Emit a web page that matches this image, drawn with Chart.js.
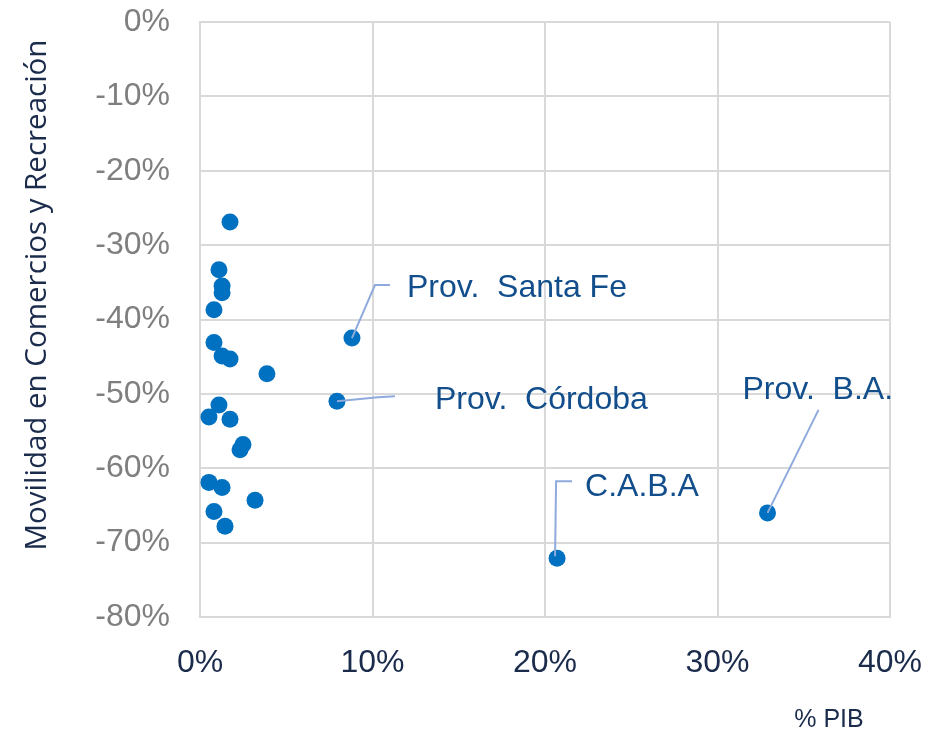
<!DOCTYPE html>
<html>
<head>
<meta charset="utf-8">
<script src="https://cdn.jsdelivr.net/npm/chart.js@4"></script>
<style>
  body { margin: 0; background: #fff; }
  #wrap { width: 935px; height: 731px; }
</style>
</head>
<body>
<div id="wrap"><canvas id="chart" width="935" height="731"></canvas></div>
<script>
// % del PIB de cada provincia vs variación de movilidad (comercios y recreación)
const pib = [1.74, 1.1, 1.28, 1.28, 0.81, 0.81, 1.28, 1.74, 3.88, 8.81, 7.94,
             1.1, 0.52, 1.74, 2.49, 2.32, 0.52, 1.28, 3.19, 0.81, 1.45, 20.7, 32.9];
const movilidad = [-26.9, -33.3, -35.5, -36.4, -38.7, -43.1, -44.9, -45.3, -47.3, -42.5, -51.0,
                   -51.5, -53.1, -53.4, -56.8, -57.5, -61.9, -62.6, -64.3, -65.8, -67.8, -72.1, -66.0];

// puntos con etiqueta (indice dentro de los arrays de arriba)
const etiquetas = ['Prov.  Santa Fe', 'Prov.  Córdoba', 'C.A.B.A', 'Prov.  B.A.'];
const etiquetaIdx = [9, 10, 21, 22];

const xTicks = [0, 10, 20, 30, 40];
const yTicks = [0, -10, -20, -30, -40, -50, -60, -70, -80];

// lineas guia y posicion del texto, en pixeles relativos al punto
const guias = [
  { line: [[0, 0], [23, -53], [38, -53]], text: [55, -50] },
  { line: [[0, 0], [41, -4], [58, -5]], text: [98, -1] },
  { line: [[-2, -2], [-1, -77], [15, -77]], text: [28, -71] },
  { line: [[0, 0], [51, -103]], text: [-25, -123] }
];

const navy = '#1b2b4b';
const azulTexto = '#124e8c';

const extras = {
  id: 'extras',
  afterDatasetsDraw(chart) {
    const ctx = chart.ctx;
    const xs = chart.scales.x, ys = chart.scales.y;
    ctx.save();
    // lineas guia y etiquetas
    etiquetaIdx.forEach((idx, i) => {
      const px = xs.getPixelForValue(pib[idx]);
      const py = ys.getPixelForValue(movilidad[idx]);
      const g = guias[i];
      ctx.strokeStyle = '#8faadc';
      ctx.lineWidth = 2;
      ctx.beginPath();
      g.line.forEach((p, k) => {
        if (k === 0) ctx.moveTo(px + p[0], py + p[1]);
        else ctx.lineTo(px + p[0], py + p[1]);
      });
      ctx.stroke();
      ctx.fillStyle = azulTexto;
      ctx.font = '32px "Liberation Sans", Arial, sans-serif';
      ctx.textAlign = 'left';
      ctx.textBaseline = 'middle';
      ctx.fillText(etiquetas[i], px + g.text[0], py + g.text[1]);
    });
    // titulo eje y
    ctx.fillStyle = navy;
    ctx.font = '29.5px "Open Sans", sans-serif';
    ctx.translate(38, 295);
    ctx.rotate(-Math.PI / 2);
    ctx.textAlign = 'center';
    ctx.textBaseline = 'middle';
    ctx.fillText('Movilidad en Comercios y Recreación', 0, 0);
    ctx.restore();
    // titulo eje x
    ctx.save();
    ctx.fillStyle = navy;
    ctx.font = '25px "Liberation Sans", sans-serif';
    ctx.textAlign = 'center';
    ctx.textBaseline = 'middle';
    ctx.fillText('% PIB', 829, 720);
    ctx.restore();
  }
};

new Chart(document.getElementById('chart'), {
  type: 'scatter',
  data: {
    datasets: [{
      data: pib.map((v, i) => ({ x: v, y: movilidad[i] })),
      backgroundColor: '#0070c0',
      borderWidth: 0,
      pointRadius: 8.5,
      pointHoverRadius: 8.5
    }]
  },
  options: {
    responsive: false,
    animation: false,
    events: [],
    layout: { padding: { top: 22, right: 45, left: 0, bottom: 0 } },
    plugins: { legend: { display: false }, tooltip: { enabled: false } },
    scales: {
      x: {
        min: 0, max: 40,
        afterBuildTicks: s => { s.ticks = xTicks.map(v => ({ value: v })); },
        afterFit: s => { s.height = 114; s.paddingLeft = 0; s.paddingRight = 0; },
        grid: { color: '#d9d9d9', lineWidth: 2, drawTicks: false },
        border: { color: '#d9d9d9', width: 2 },
        ticks: {
          padding: 27,
          color: navy,
          font: { family: '"Liberation Sans", Arial, sans-serif', size: 32 },
          callback: v => v + '%'
        }
      },
      y: {
        min: -80, max: 0,
        afterBuildTicks: s => { s.ticks = yTicks.map(v => ({ value: v })); },
        afterFit: s => { s.width = 200; s.paddingTop = 0; s.paddingBottom = 0; },
        grid: { color: '#d9d9d9', lineWidth: 2, drawTicks: false },
        border: { color: '#d9d9d9', width: 2 },
        ticks: {
          padding: 30,
          color: '#7f7f7f',
          font: { family: '"Liberation Sans", Arial, sans-serif', size: 32 },
          callback: v => v + '%'
        }
      }
    }
  },
  plugins: [extras]
});
</script>
</body>
</html>
